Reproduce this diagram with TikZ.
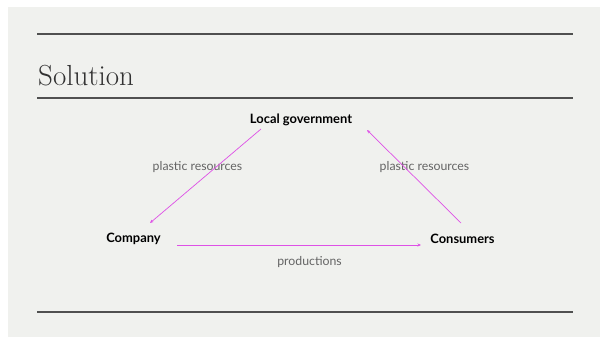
\documentclass[tikz,border=0pt]{standalone}
\usepackage{fontspec}
\setmainfont{Lato}
\newfontfamily\titlefont{Latin Modern Roman}
\usetikzlibrary{arrows.meta}
\definecolor{bgc}{RGB}{240,241,238}
\definecolor{rulec}{RGB}{80,80,80}
\definecolor{arrc}{RGB}{222,80,230}
\definecolor{labc}{RGB}{100,100,100}
\tikzset{
  rule/.style={draw=rulec, line width=1.3pt},
  ent/.style={font=\fontsize{12.9}{15}\selectfont\bfseries, text=black, inner sep=0pt},
  lab/.style={font=\fontsize{12.3}{14}\selectfont, text=labc, inner sep=0pt},
  flow/.style={draw=arrc, line width=0.7pt, -{Stealth[length=3.5pt,width=3pt]}}
}
\begin{document}
\begin{tikzpicture}[x=1pt,y=-1pt]
\useasboundingbox (0,0) rectangle (605,337);
\fill[white] (0,0) rectangle (605,337);
\fill[bgc] (8,7) rectangle (600,337);
\coordinate (r1a) at (37,34);
\coordinate (r1b) at (573,34);
\coordinate (r2a) at (37,98);
\coordinate (r2b) at (573,98);
\coordinate (r3a) at (37,312);
\coordinate (r3b) at (573,312);
\draw[rule] (r1a) -- (r1b);
\draw[rule] (r2a) -- (r2b);
\draw[rule] (r3a) -- (r3b);
\node[anchor=base west, inner sep=0pt, text={rgb,255:red,50;green,50;blue,50}, font=\titlefont\fontsize{29}{33}\selectfont] (title) at (38,85) {Solution};
\node[ent] (lg) at (301,120) {Local government};
\node[ent] (co) at (133.5,238.5) {Company};
\node[ent] (cs) at (462.5,238.5) {Consumers};
\node[lab] (l1) at (197.5,167) {plastic resources};
\node[lab] (l2) at (424.5,167) {plastic resources};
\node[lab] (l3) at (309.5,262) {productions};
\coordinate (a1s) at (261,129);
\coordinate (a1e) at (150,223);
\coordinate (a2s) at (461,223);
\coordinate (a2e) at (367,130);
\coordinate (a3s) at (177,245);
\coordinate (a3e) at (421,245);
\draw[flow] (a1s) -- (a1e);
\draw[flow] (a2s) -- (a2e);
\draw[flow] (a3s) -- (a3e);
\end{tikzpicture}
\end{document}
